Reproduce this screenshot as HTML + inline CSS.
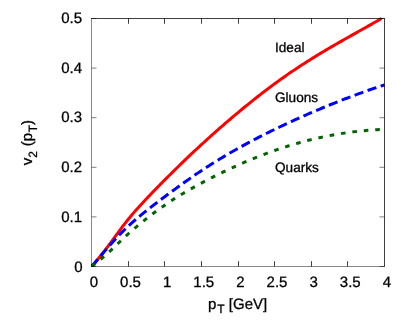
<!DOCTYPE html>
<html><head><meta charset="utf-8"><style>
html,body{margin:0;padding:0;background:#fff;}
svg{display:block;will-change:transform}
text{text-rendering:geometricPrecision;font-family:"Liberation Sans",sans-serif;fill:#000;stroke:#000;stroke-width:0.3px}
</style></head><body>
<svg width="407" height="331" viewBox="0 0 407 331">
<rect width="407" height="331" fill="#fff"/>
<clipPath id="c"><rect x="91" y="0" width="400" height="267"/></clipPath>
<g fill="none" stroke-linejoin="round" clip-path="url(#c)">
<path d="M91.50,266.50 L93.33,264.48 L95.16,262.40 L96.99,260.26 L98.83,258.07 L100.66,255.81 L102.49,253.51 L104.32,251.15 L106.15,248.74 L107.98,246.29 L109.81,243.81 L111.64,241.31 L113.48,238.80 L115.31,236.28 L117.14,233.77 L118.97,231.29 L120.80,228.84 L122.63,226.43 L124.46,224.06 L126.29,221.74 L128.12,219.46 L129.96,217.22 L131.79,215.03 L133.62,212.89 L135.45,210.79 L137.28,208.73 L139.11,206.70 L140.94,204.70 L142.78,202.72 L144.61,200.76 L146.44,198.81 L148.27,196.88 L150.10,194.95 L151.93,193.04 L153.76,191.14 L155.59,189.24 L157.43,187.36 L159.26,185.49 L161.09,183.63 L162.92,181.77 L164.75,179.93 L166.58,178.09 L168.41,176.26 L170.24,174.44 L172.07,172.63 L173.91,170.83 L175.74,169.03 L177.57,167.24 L179.40,165.45 L181.23,163.68 L183.06,161.91 L184.89,160.15 L186.73,158.40 L188.56,156.65 L190.39,154.91 L192.22,153.19 L194.05,151.46 L195.88,149.75 L197.71,148.05 L199.54,146.35 L201.38,144.66 L203.21,142.98 L205.04,141.31 L206.87,139.65 L208.70,137.99 L210.53,136.34 L212.36,134.70 L214.19,133.07 L216.03,131.45 L217.86,129.83 L219.69,128.22 L221.52,126.62 L223.35,125.03 L225.18,123.44 L227.01,121.87 L228.84,120.30 L230.68,118.74 L232.51,117.18 L234.34,115.63 L236.17,114.10 L238.00,112.57 L239.83,111.04 L241.66,109.53 L243.49,108.02 L245.33,106.53 L247.16,105.04 L248.99,103.56 L250.82,102.08 L252.65,100.62 L254.48,99.16 L256.31,97.72 L258.14,96.28 L259.98,94.85 L261.81,93.43 L263.64,92.02 L265.47,90.62 L267.30,89.23 L269.13,87.85 L270.96,86.48 L272.79,85.12 L274.62,83.77 L276.46,82.43 L278.29,81.10 L280.12,79.78 L281.95,78.48 L283.78,77.18 L285.61,75.90 L287.44,74.62 L289.27,73.36 L291.11,72.11 L292.94,70.87 L294.77,69.64 L296.60,68.42 L298.43,67.21 L300.26,66.01 L302.09,64.82 L303.93,63.64 L305.76,62.47 L307.59,61.30 L309.42,60.15 L311.25,59.00 L313.08,57.87 L314.91,56.74 L316.74,55.62 L318.58,54.50 L320.41,53.40 L322.24,52.30 L324.07,51.21 L325.90,50.12 L327.73,49.04 L329.56,47.97 L331.39,46.90 L333.23,45.83 L335.06,44.78 L336.89,43.72 L338.72,42.67 L340.55,41.63 L342.38,40.59 L344.21,39.55 L346.04,38.51 L347.88,37.48 L349.71,36.45 L351.54,35.42 L353.37,34.39 L355.20,33.36 L357.03,32.33 L358.86,31.31 L360.69,30.28 L362.53,29.25 L364.36,28.22 L366.19,27.19 L368.02,26.16 L369.85,25.12 L371.68,24.08 L373.51,23.04 L375.34,21.99 L377.18,20.94 L379.01,19.89 L380.84,18.82 L381.40,18.50" stroke="#ff0000" stroke-width="3"/>
<path d="M91.50,266.50 L93.33,264.49 L95.16,262.42 L96.99,260.30 L98.83,258.14 L100.66,255.97 L102.49,253.80 L104.32,251.63 L106.15,249.48 L107.98,247.35 L109.81,245.25 L111.64,243.18 L113.48,241.15 L115.31,239.16 L117.14,237.21 L118.97,235.29 L120.80,233.42 L122.63,231.58 L124.46,229.78 L126.29,228.01 L128.12,226.29 L129.96,224.60 L131.79,222.95 L133.62,221.34 L135.45,219.75 L137.28,218.20 L139.11,216.67 L140.94,215.16 L142.78,213.68 L144.61,212.20 L146.44,210.74 L148.27,209.30 L150.10,207.86 L151.93,206.43 L153.76,205.02 L155.59,203.61 L157.43,202.21 L159.26,200.82 L161.09,199.44 L162.92,198.06 L164.75,196.69 L166.58,195.32 L168.41,193.96 L170.24,192.61 L172.07,191.26 L173.91,189.92 L175.74,188.59 L177.57,187.26 L179.40,185.93 L181.23,184.61 L183.06,183.30 L184.89,182.00 L186.73,180.70 L188.56,179.41 L190.39,178.13 L192.22,176.86 L194.05,175.60 L195.88,174.35 L197.71,173.12 L199.54,171.89 L201.38,170.67 L203.21,169.47 L205.04,168.27 L206.87,167.09 L208.70,165.91 L210.53,164.75 L212.36,163.59 L214.19,162.45 L216.03,161.31 L217.86,160.19 L219.69,159.07 L221.52,157.96 L223.35,156.86 L225.18,155.78 L227.01,154.70 L228.84,153.63 L230.68,152.56 L232.51,151.51 L234.34,150.47 L236.17,149.43 L238.00,148.40 L239.83,147.38 L241.66,146.37 L243.49,145.37 L245.33,144.37 L247.16,143.38 L248.99,142.40 L250.82,141.43 L252.65,140.46 L254.48,139.50 L256.31,138.55 L258.14,137.60 L259.98,136.66 L261.81,135.73 L263.64,134.81 L265.47,133.89 L267.30,132.98 L269.13,132.07 L270.96,131.17 L272.79,130.27 L274.62,129.38 L276.46,128.50 L278.29,127.62 L280.12,126.75 L281.95,125.88 L283.78,125.02 L285.61,124.16 L287.44,123.31 L289.27,122.46 L291.11,121.62 L292.94,120.78 L294.77,119.95 L296.60,119.12 L298.43,118.30 L300.26,117.48 L302.09,116.66 L303.93,115.85 L305.76,115.05 L307.59,114.25 L309.42,113.45 L311.25,112.66 L313.08,111.88 L314.91,111.09 L316.74,110.32 L318.58,109.54 L320.41,108.77 L322.24,108.01 L324.07,107.25 L325.90,106.50 L327.73,105.75 L329.56,105.00 L331.39,104.26 L333.23,103.52 L335.06,102.79 L336.89,102.06 L338.72,101.34 L340.55,100.62 L342.38,99.91 L344.21,99.20 L346.04,98.49 L347.88,97.79 L349.71,97.10 L351.54,96.41 L353.37,95.73 L355.20,95.05 L357.03,94.37 L358.86,93.70 L360.69,93.04 L362.53,92.38 L364.36,91.72 L366.19,91.08 L368.02,90.43 L369.85,89.79 L371.68,89.16 L373.51,88.54 L375.34,87.91 L377.18,87.30 L379.01,86.69 L380.84,86.09 L382.67,85.49 L384.50,84.90" stroke="#0000ff" stroke-width="3" stroke-dasharray="9.3,4.5" stroke-dashoffset="-0.2"/>
<path d="M91.50,266.50 L93.33,265.10 L95.16,263.68 L96.99,262.25 L98.83,260.79 L100.66,259.29 L102.49,257.76 L104.32,256.18 L106.15,254.57 L107.98,252.93 L109.81,251.24 L111.64,249.53 L113.48,247.80 L115.31,246.05 L117.14,244.29 L118.97,242.54 L120.80,240.80 L122.63,239.08 L124.46,237.37 L126.29,235.68 L128.12,234.01 L129.96,232.37 L131.79,230.75 L133.62,229.16 L135.45,227.59 L137.28,226.05 L139.11,224.53 L140.94,223.03 L142.78,221.55 L144.61,220.09 L146.44,218.64 L148.27,217.21 L150.10,215.80 L151.93,214.41 L153.76,213.03 L155.59,211.67 L157.43,210.33 L159.26,209.01 L161.09,207.71 L162.92,206.42 L164.75,205.15 L166.58,203.90 L168.41,202.67 L170.24,201.46 L172.07,200.26 L173.91,199.08 L175.74,197.91 L177.57,196.77 L179.40,195.63 L181.23,194.52 L183.06,193.42 L184.89,192.33 L186.73,191.25 L188.56,190.19 L190.39,189.14 L192.22,188.11 L194.05,187.08 L195.88,186.06 L197.71,185.06 L199.54,184.06 L201.38,183.07 L203.21,182.09 L205.04,181.12 L206.87,180.16 L208.70,179.21 L210.53,178.27 L212.36,177.33 L214.19,176.41 L216.03,175.49 L217.86,174.58 L219.69,173.68 L221.52,172.79 L223.35,171.91 L225.18,171.03 L227.01,170.17 L228.84,169.31 L230.68,168.46 L232.51,167.62 L234.34,166.78 L236.17,165.96 L238.00,165.14 L239.83,164.33 L241.66,163.53 L243.49,162.74 L245.33,161.95 L247.16,161.17 L248.99,160.40 L250.82,159.64 L252.65,158.89 L254.48,158.15 L256.31,157.41 L258.14,156.68 L259.98,155.96 L261.81,155.25 L263.64,154.55 L265.47,153.86 L267.30,153.17 L269.13,152.50 L270.96,151.83 L272.79,151.17 L274.62,150.53 L276.46,149.89 L278.29,149.26 L280.12,148.64 L281.95,148.03 L283.78,147.43 L285.61,146.84 L287.44,146.26 L289.27,145.69 L291.11,145.13 L292.94,144.58 L294.77,144.04 L296.60,143.51 L298.43,142.99 L300.26,142.47 L302.09,141.97 L303.93,141.48 L305.76,141.00 L307.59,140.53 L309.42,140.06 L311.25,139.61 L313.08,139.17 L314.91,138.74 L316.74,138.31 L318.58,137.90 L320.41,137.49 L322.24,137.10 L324.07,136.72 L325.90,136.34 L327.73,135.97 L329.56,135.62 L331.39,135.27 L333.23,134.93 L335.06,134.61 L336.89,134.29 L338.72,133.98 L340.55,133.68 L342.38,133.39 L344.21,133.11 L346.04,132.84 L347.88,132.58 L349.71,132.33 L351.54,132.09 L353.37,131.86 L355.20,131.63 L357.03,131.42 L358.86,131.22 L360.69,131.02 L362.53,130.84 L364.36,130.66 L366.19,130.49 L368.02,130.33 L369.85,130.19 L371.68,130.05 L373.51,129.92 L375.34,129.80 L377.18,129.68 L379.01,129.58 L380.84,129.49 L382.67,129.41 L384.50,129.33" stroke="#006400" stroke-width="3" stroke-dasharray="4.6,6.89"/>
</g>
<g stroke="#000" stroke-width="0.52" fill="none">
<path stroke-width="0.75" d="M128.50,266.5 V261.2 M128.50,18.5 V23.8"/><path stroke-width="0.75" d="M164.50,266.5 V261.2 M164.50,18.5 V23.8"/><path stroke-width="0.75" d="M201.50,266.5 V261.2 M201.50,18.5 V23.8"/><path stroke-width="0.75" d="M238.50,266.5 V261.2 M238.50,18.5 V23.8"/><path stroke-width="0.75" d="M274.50,266.5 V261.2 M274.50,18.5 V23.8"/><path stroke-width="0.75" d="M311.50,266.5 V261.2 M311.50,18.5 V23.8"/><path stroke-width="0.75" d="M347.50,266.5 V261.2 M347.50,18.5 V23.8"/><path stroke-width="0.5" d="M91.5,266.50 H96.5 M384.5,266.50 H379.5"/><path stroke-width="0.5" d="M91.5,216.90 H96.5 M384.5,216.90 H379.5"/><path stroke-width="0.5" d="M91.5,167.30 H96.5 M384.5,167.30 H379.5"/><path stroke-width="0.5" d="M91.5,117.70 H96.5 M384.5,117.70 H379.5"/><path stroke-width="0.5" d="M91.5,68.10 H96.5 M384.5,68.10 H379.5"/><path stroke-width="0.5" d="M91.5,18.50 H96.5 M384.5,18.50 H379.5"/><path stroke-width="0.75" d="M91.0,18.5 H385.0 M384.5,18.5 V266.5"/><path stroke-width="0.47" d="M91.0,266.5 H385.0 M91.5,18.5 V266.5"/>
</g>
<g font-size="15">
<text x="93.90" y="287" text-anchor="middle">0</text><text x="130.53" y="287" text-anchor="middle">0.5</text><text x="167.15" y="287" text-anchor="middle">1</text><text x="203.78" y="287" text-anchor="middle">1.5</text><text x="240.40" y="287" text-anchor="middle">2</text><text x="277.02" y="287" text-anchor="middle">2.5</text><text x="313.65" y="287" text-anchor="middle">3</text><text x="350.27" y="287" text-anchor="middle">3.5</text><text x="386.90" y="287" text-anchor="middle">4</text>
<text x="82.50" y="272.15" text-anchor="end">0</text><text x="82.10" y="221.65" text-anchor="end">0.1</text><text x="82.10" y="172.05" text-anchor="end">0.2</text><text x="82.10" y="122.45" text-anchor="end">0.3</text><text x="82.10" y="72.85" text-anchor="end">0.4</text><text x="82.10" y="23.25" text-anchor="end">0.5</text>
</g>
<g font-size="13.6">
<text x="275" y="52.2">Ideal</text>
<text x="275" y="102">Gluons</text>
<text x="275" y="171.8">Quarks</text>
</g>
<text font-size="15" x="237.6" y="308.7" text-anchor="middle">p<tspan font-size="12" dx="0.9" dy="4.7">T</tspan><tspan dy="-4.7"> [GeV]</tspan></text>
<text font-size="15" transform="translate(31.8,142.6) rotate(-90)" text-anchor="middle">v<tspan font-size="12" dy="5">2</tspan><tspan dy="-5" dx="0.7"> (p</tspan><tspan font-size="12" dx="0.6" dy="5.1">T</tspan><tspan dy="-5.1">)</tspan></text>
</svg>
</body></html>
